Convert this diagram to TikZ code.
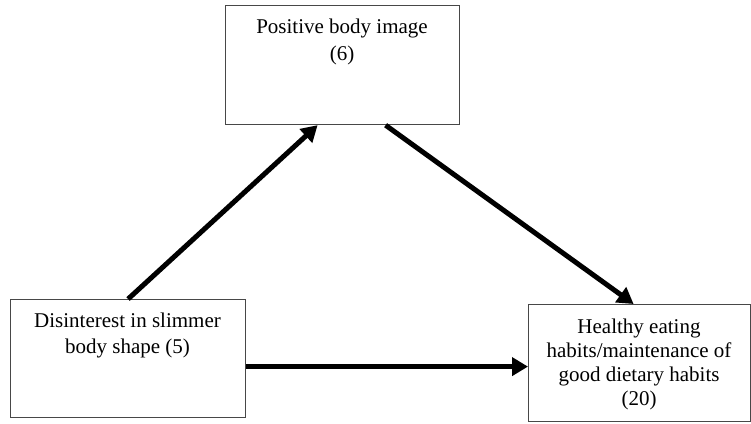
\documentclass[tikz,border=0pt]{standalone}
\usepackage{fontspec}
\setmainfont{Liberation Serif}
\usetikzlibrary{arrows.meta,calc}
\begin{document}
\begin{tikzpicture}[x=1pt,y=-1pt,
  box/.style={draw=black!72,line width=1.2pt,inner sep=0pt,anchor=north west},
  boxtext/.style={align=center,anchor=base,inner sep=0pt},
  flow/.style={line width=5pt,-{Triangle[length=16pt,width=18pt]},black}]
\useasboundingbox (0,0) rectangle (751,423);

% the three boxes
\node[box,minimum width=234pt,minimum height=119pt] (tbox) at (225,5) {};
\node[box,minimum width=235pt,minimum height=118pt] (lbox) at (10,299) {};
\node[box,minimum width=222pt,minimum height=117pt] (rbox) at (528,304) {};

% box labels (placed by the baseline of their last line)
\node[boxtext,font=\fontsize{21}{27}\selectfont] (ttext) at (342,60)
  {Positive body image\\(6)};
\node[boxtext,font=\fontsize{21}{26}\selectfont] (ltext) at (127.5,353)
  {Disinterest in slimmer\\body shape (5)};
\node[boxtext,font=\fontsize{21}{24}\selectfont] (rtext) at (639,405)
  {Healthy eating\\habits/maintenance of\\good dietary habits\\(20)};

% arrows between the boxes
\draw[flow] (lbox.north) -- ([xshift=-25pt]tbox.south);
\draw[flow] ([xshift=43pt]tbox.south) -- ([xshift=-6pt]rbox.north);
\draw[flow,line width=5.5pt] ([yshift=-8pt]lbox.east) -- ([yshift=-8pt]lbox.east -| rbox.west);
\end{tikzpicture}
\end{document}
